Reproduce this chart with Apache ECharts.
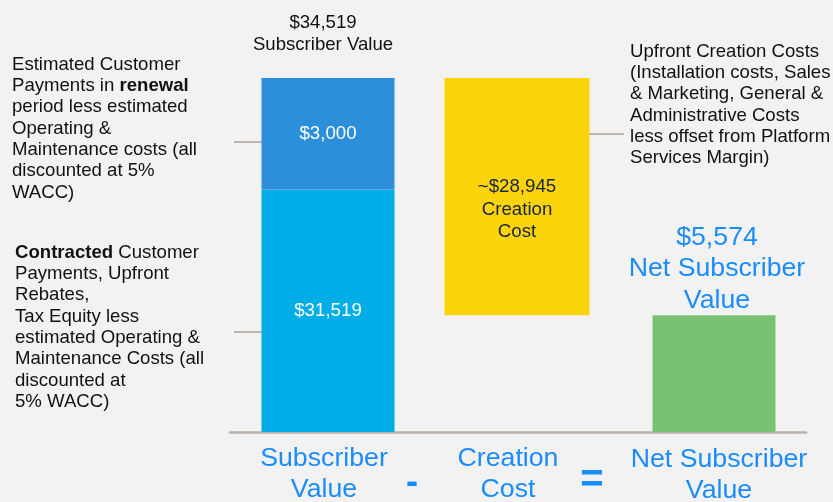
<!DOCTYPE html>
<html>
<head>
<meta charset="utf-8">
<script src="https://cdn.jsdelivr.net/npm/echarts@6/dist/echarts.min.js"></script>
<style>
  html, body { margin: 0; padding: 0; background: #f2f2f2; }
  #chart { width: 833px; height: 502px; }
</style>
</head>
<body>
<div id="chart"></div>
<script>
  const categories = ['Subscriber\nValue', 'Creation\nCost', 'Net Subscriber\nValue']

  // bar extents as drawn in the picture, on a 0-100 scale (the original is not to scale)
  const barCategory = [0, 0, 1, 2]
  const barLow = [0, 68.5, 33, 0]
  const barHigh = [68.5, 100, 100, 33]
  const barLabels = ['$31,519', '$3,000', '~$28,945\nCreation\nCost', '']
  const aboveLabels = ['', '$34,519\nSubscriber Value', '', '$5,574\nNet Subscriber\nValue']

  const barColors = ['#00ade6', '#2b8fd9', '#fbd40b', '#77c371']
  const barWidths = [133, 133, 145, 123]
  const barShift = [2, 2, -1, 4]
  const font = '"Liberation Sans", Arial, sans-serif'
  const blue = '#1a8cff'

  const chart = echarts.init(document.getElementById('chart'))

  const noteStyle = { fill: '#111', fontSize: 18.6, lineHeight: 21.3, fontFamily: font }
  const boldRich = { b: { fontWeight: 'bold', fontSize: 18.6, lineHeight: 21.3, fontFamily: font, fill: '#111' } }
  const axisText = { color: blue, fontSize: 26.7, lineHeight: 31, fontFamily: font }

  chart.setOption({
    backgroundColor: '#f2f2f2',
    animation: false,
    grid: {
      left: 230,
      right: 27,
      top: 78,
      bottom: 70,
      outerBoundsMode: 'none'
    },
    xAxis: {
      type: 'category',
      data: categories,
      axisTick: { show: false },
      axisLine: { lineStyle: { color: '#bbb3ab', width: 2.5 } },
      axisLabel: {
        interval: 0,
        color: blue,
        fontSize: 26.7,
        lineHeight: 31,
        fontFamily: font,
        margin: 11,
        formatter: (v, i) => v.split('\n').map(l => `{c${i}|${l}}`).join('\n'),
        rich: {
          c0: Object.assign({ padding: [0, 4, 0, 0] }, axisText),
          c1: Object.assign({ padding: [0, 20, 0, 0] }, axisText),
          c2: Object.assign({ padding: [3, 0, 0, 18] }, axisText)
        }
      }
    },
    yAxis: {
      type: 'value',
      min: 0,
      max: 100,
      show: false,
      splitLine: { show: false }
    },
    series: [{
      type: 'custom',
      data: barCategory.map((c, i) => [c, barLow[i], barHigh[i]]),
      renderItem(params, api) {
        const i = params.dataIndex
        const top = api.coord([api.value(0), api.value(2)])
        const bottom = api.coord([api.value(0), api.value(1)])
        const w = barWidths[i]
        const cx = top[0] + barShift[i]
        const children = [{
          type: 'rect',
          shape: { x: cx - w / 2, y: top[1], width: w, height: bottom[1] - top[1] },
          style: { fill: barColors[i] },
          textContent: {
            style: {
              text: barLabels[i],
              fill: i === 2 ? '#1b2440' : '#fff',
              fontSize: 18.7,
              lineHeight: 22.5,
              fontFamily: font,
              align: 'center'
            }
          },
          textConfig: { position: 'inside', offset: i === 2 ? [0, 13] : [0, 0] }
        }]
        if (aboveLabels[i]) {
          const big = i === 3
          children.push({
            type: 'text',
            x: cx + (big ? 3 : -5),
            y: top[1] + (big ? 1 : -22),
            style: {
              text: aboveLabels[i],
              fill: big ? blue : '#111',
              fontSize: big ? 26.7 : 18.6,
              lineHeight: big ? 31.5 : 22,
              fontFamily: font,
              align: 'center',
              verticalAlign: 'bottom'
            }
          })
        }
        return { type: 'group', children }
      }
    }],
    graphic: [
      {
        type: 'text', left: 12, top: 54,
        style: Object.assign({
          text: 'Estimated Customer\nPayments in {b|renewal}\nperiod less estimated\nOperating &\nMaintenance costs (all\ndiscounted at 5%\nWACC)',
          rich: boldRich
        }, noteStyle)
      },
      {
        type: 'text', left: 15, top: 242,
        style: Object.assign({
          text: '{b|Contracted} Customer\nPayments, Upfront\nRebates,\nTax Equity less\nestimated Operating &\nMaintenance Costs (all\ndiscounted at\n5% WACC)',
          rich: boldRich
        }, noteStyle)
      },
      {
        type: 'text', left: 630, top: 41,
        style: Object.assign({
          text: 'Upfront Creation Costs\n(Installation costs, Sales\n& Marketing, General &\nAdministrative Costs\nless offset from Platform\nServices Margin)'
        }, noteStyle)
      },
      { type: 'line', shape: { x1: 234, y1: 142, x2: 262, y2: 142 }, style: { stroke: '#bfb5ad', lineWidth: 2 } },
      { type: 'line', shape: { x1: 234, y1: 332, x2: 262, y2: 332 }, style: { stroke: '#bfb5ad', lineWidth: 2 } },
      { type: 'line', shape: { x1: 588, y1: 134, x2: 624, y2: 134 }, style: { stroke: '#bfb5ad', lineWidth: 2 } },
      {
        type: 'text', x: 412, y: 483,
        style: { text: '-', fill: blue, fontSize: 36, fontWeight: 'bold', fontFamily: font, align: 'center', verticalAlign: 'middle' }
      },
      {
        type: 'text', x: 592, y: 481,
        style: { text: '=', fill: blue, fontSize: 40, fontWeight: 'bold', fontFamily: font, align: 'center', verticalAlign: 'middle' }
      }
    ]
  })
</script>
</body>
</html>
